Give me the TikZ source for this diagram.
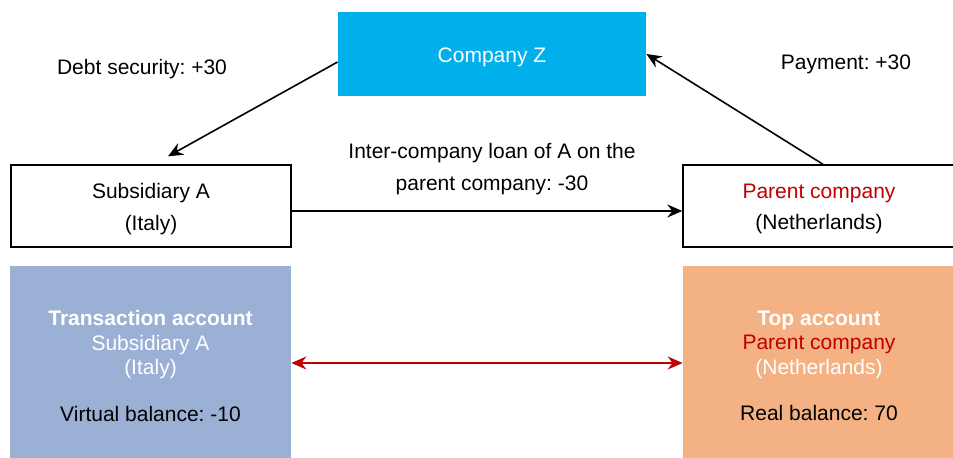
\documentclass[tikz,border=0pt]{standalone}
\usepackage{fontspec}
\setmainfont{Liberation Sans}
\usepackage{tikz}
\usetikzlibrary{arrows.meta}
\frenchspacing

\definecolor{zblue}{HTML}{00B0EA}
\definecolor{accblue}{HTML}{9BB0D5}
\definecolor{accorange}{HTML}{F4B183}
\definecolor{darkred}{HTML}{C00000}

\tikzset{
    entity/.style={draw=black, line width=0.7pt, fill=white, align=center,
        minimum width=140pt, minimum height=41pt, inner sep=0pt},
    account/.style={draw=none, align=center, minimum height=97pt, inner sep=0pt,
        font=\fontsize{10.5}{12.25}\selectfont},
    flow/.style={line width=0.8pt, -{Stealth[length=7.5pt,width=6.5pt,inset=2.5pt]}},
    label/.style={align=center, inner sep=0pt}
}

\begin{document}
\begin{tikzpicture}[x=0.5pt, y=-0.5pt, font=\fontsize{10.5}{12.6}\selectfont]
    \useasboundingbox (0,0) rectangle (953,458);

    % Company Z on top
    \node[fill=zblue, minimum width=154pt, minimum height=42pt, inner sep=0pt] (zco) at (492,54) {};
    \node[label, text=white] (zcotext) at (492,57) {Company Z};

    % Subsidiary and parent
    \node[entity] (suba) at (151,206) {};
    \node[label] (subatext) at (151,209) {Subsidiary A\\[3pt](Italy)};
    \node[entity, minimum width=136pt] (parent) at (819,206) {};
    \node[label] (parenttext) at (819,209) {\textcolor{darkred}{Parent company}\\[3pt](Netherlands)};

    % Accounts at the bottom
    \node[account, fill=accblue, minimum width=140.5pt] (trans) at (150.5,363) {};
    \node[account] (transtext) at (150.5,366)
        {\textcolor{white}{\textbf{Transaction account}}\\
         \textcolor{white}{Subsidiary A}\\
         \textcolor{white}{(Italy)}\\[11pt]
         Virtual balance: -10};
    \node[account, fill=accorange, minimum width=136pt] (topacc) at (819,363) {};
    \node[account] (topacctext) at (819,366)
        {\textcolor{white}{\textbf{Top account}}\\
         \textcolor{darkred}{Parent company}\\
         \textcolor{white}{(Netherlands)}\\[11pt]
         Real balance: 70};

    % Flows
    \draw[flow] ([yshift=-4pt]zco.west) -- ([xshift=8.5pt,yshift=4pt]suba.north);
    \draw[flow] ([xshift=2pt]parent.north) -- (zco.east);
    \draw[flow] ([yshift=-2.5pt]suba.east) -- ([yshift=-2.5pt]parent.west);
    \draw[flow, darkred, {Stealth[length=7.5pt,width=6.5pt,inset=2.5pt]}-{Stealth[length=7.5pt,width=6.5pt,inset=2.5pt]}]
        (trans.east) -- (topacc.west);

    % Labels
    \node[label] (debt) at (142,69) {Debt security: +30};
    \node[label] (pay) at (846,64) {Payment: +30};
    \node[label] (loan) at (492,169) {Inter-company loan of A on the\\[3pt]parent company: -30};
\end{tikzpicture}
\end{document}
